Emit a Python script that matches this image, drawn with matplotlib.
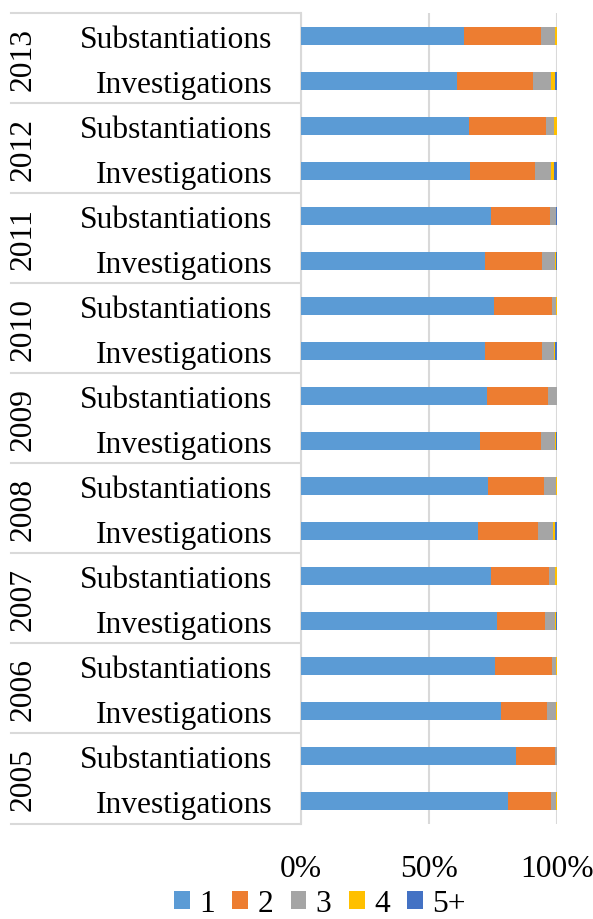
import numpy as np
import matplotlib
matplotlib.use("Agg")
import matplotlib.pyplot as plt
from matplotlib.transforms import blended_transform_factory
from matplotlib.lines import Line2D

years = ["2013", "2012", "2011", "2010", "2009", "2008", "2007", "2006", "2005"]
kinds = ["Substantiations", "Investigations"]
series_names = ["1", "2", "3", "4", "5+"]
colors = ["#5B9BD5", "#ED7D31", "#A5A5A5", "#FFC000", "#4472C4"]

# shares (%) per row, top to bottom: each year -> Substantiations, Investigations
share_1 = [63.5, 60.8, 65.6, 66.0, 74.2, 71.9, 75.4, 72.0, 72.7, 69.9,
           73.0, 69.1, 74.2, 76.6, 75.8, 78.1, 84.1, 80.9]
share_2 = [30.2, 29.8, 30.0, 25.4, 22.9, 22.3, 22.7, 22.0, 23.7, 23.7,
           21.8, 23.5, 22.7, 18.7, 22.2, 18.1, 15.0, 16.8]
share_3 = [5.7, 7.0, 3.3, 6.3, 2.6, 4.9, 1.4, 4.7, 3.6, 5.5,
           4.7, 5.8, 2.3, 3.8, 1.7, 3.3, 0.9, 2.0]
share_4 = [0.5, 1.7, 1.1, 1.3, 0.0, 0.5, 0.5, 0.6, 0.0, 0.7,
           0.5, 0.9, 0.8, 0.4, 0.3, 0.5, 0.0, 0.3]
share_5 = [0.1, 0.7, 0.0, 1.0, 0.3, 0.4, 0.0, 0.7, 0.0, 0.2,
           0.0, 0.7, 0.0, 0.5, 0.0, 0.0, 0.0, 0.0]

shares = np.array([share_1, share_2, share_3, share_4, share_5])
shares = shares / shares.sum(axis=0) * 100

plt.rcParams['font.family'] = ['Liberation Serif', 'DejaVu Serif']
fs = 22.7

fig = plt.figure(figsize=(5.93, 9.2), dpi=100)
ax = fig.add_axes([301 / 593, 1 - 824.5 / 920, 256 / 593, 810.5 / 920])

n = len(share_1)
ypos = np.arange(n)
left = np.zeros(n)
for i in range(len(series_names)):
    ax.barh(ypos, shares[i], left=left, height=0.4, color=colors[i],
            label=series_names[i], zorder=3)
    left += shares[i]

ax.set_ylim(n - 0.5, -0.5)
ax.set_xlim(0, 100)
ax.set_xticks([0, 50, 100])
ax.set_xticklabels(["0%", "50%", "100%"], fontsize=fs)
ax.tick_params(axis='x', length=0, pad=22)
ax.set_yticks(ypos)
ax.set_yticklabels(kinds * len(years), fontsize=fs)
ax.tick_params(axis='y', length=0, pad=20.5)
ax.grid(axis='x', color="#D9D9D9", linewidth=1.5, zorder=0)
for s in ["top", "right", "bottom"]:
    ax.spines[s].set_visible(False)
ax.spines["left"].set_color("#D9D9D9")
ax.spines["left"].set_linewidth(1.5)

# year group labels and separators to the left of the axis
trans = blended_transform_factory(fig.transFigure, ax.transData)
for k, yr in enumerate(years):
    ax.text(23 / 593, 2 * k + 0.5, yr, transform=trans, rotation=90,
            ha="center", va="center", fontsize=fs)
for k in range(len(years) + 1):
    y = 2 * k - 0.5
    ax.add_line(Line2D([11 / 593, 300 / 593], [y, y], transform=trans,
                       color="#D9D9D9", linewidth=1.5, clip_on=False))

fig.legend(loc="center", bbox_to_anchor=(320 / 593, 1 - 905 / 920),
           ncol=5, frameon=False, fontsize=fs, handlelength=0.5,
           handleheight=0.5, handletextpad=0.3, columnspacing=0.55,
           borderpad=0, borderaxespad=0)

fig.savefig("out.png", dpi=100)
